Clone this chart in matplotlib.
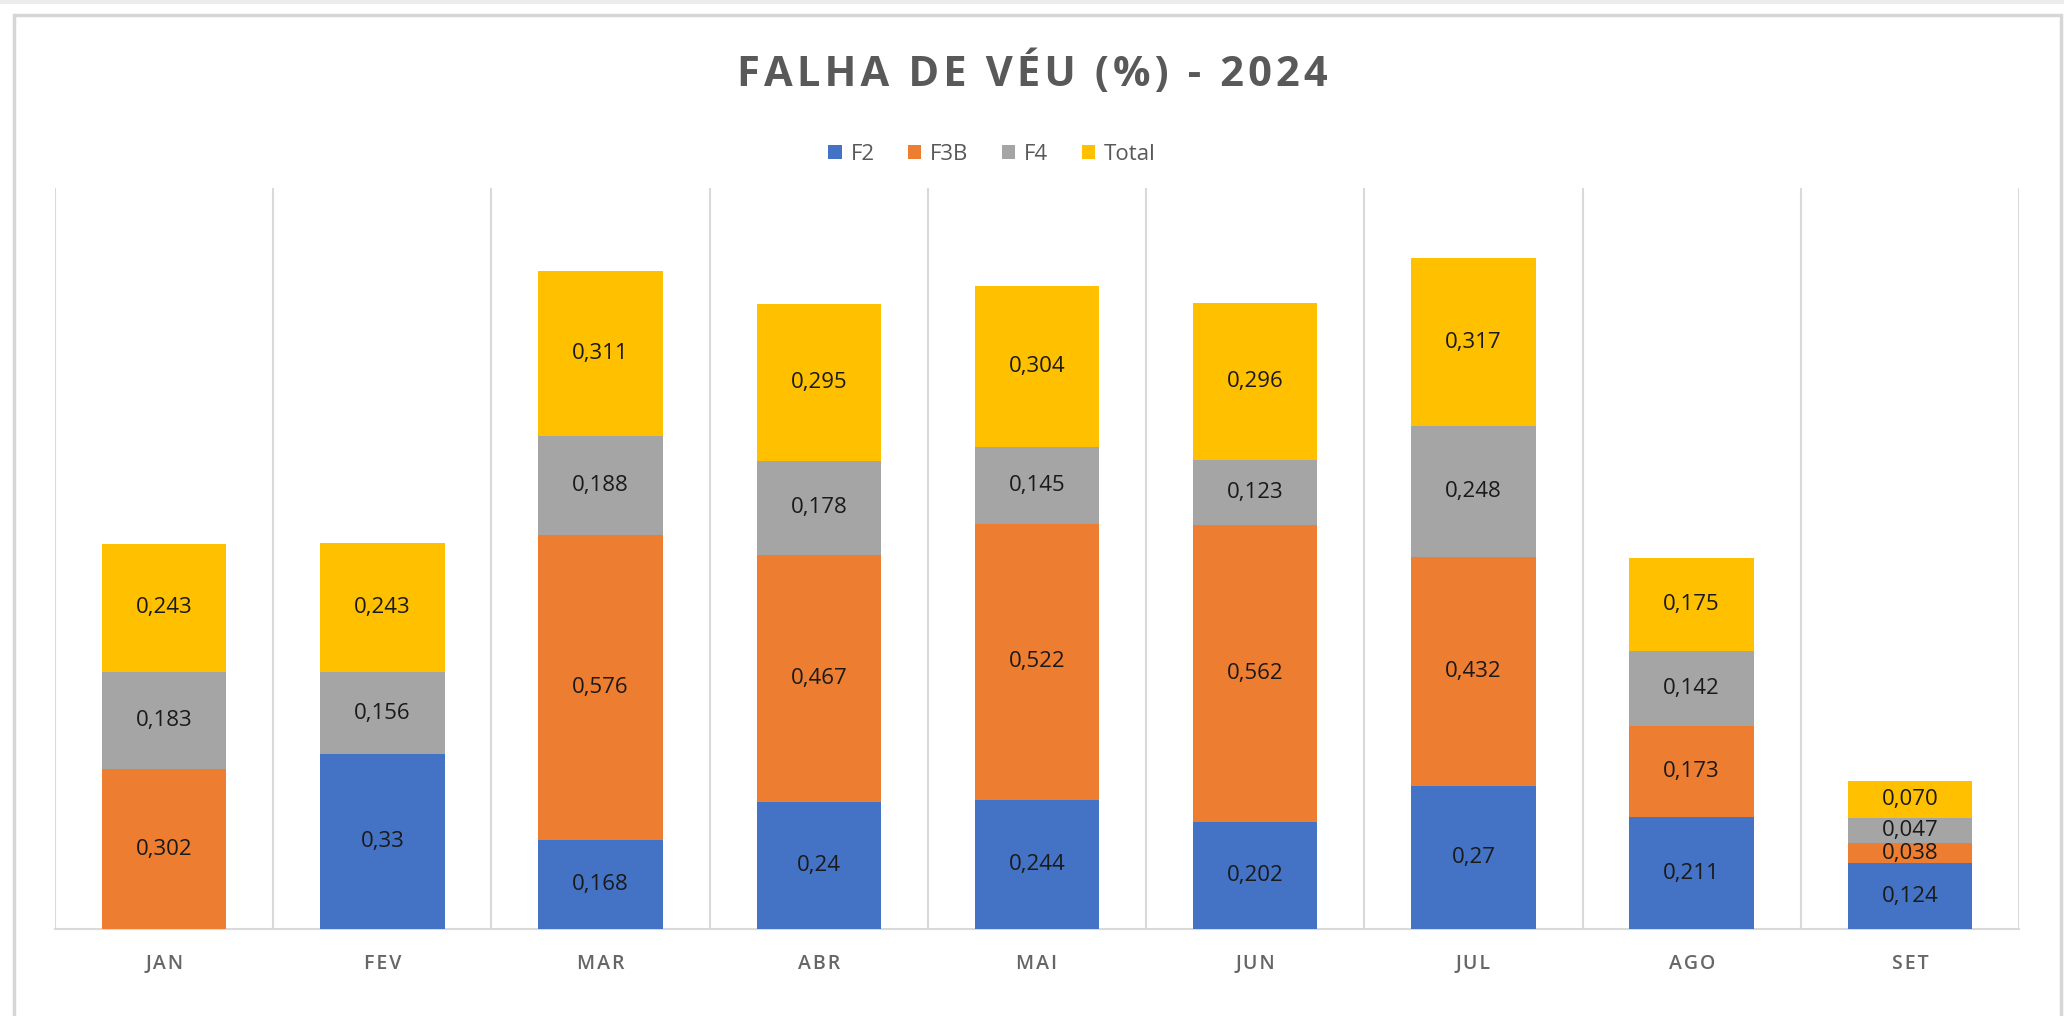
import numpy as np
import matplotlib
matplotlib.use('Agg')
import matplotlib.pyplot as plt
from matplotlib.patches import Rectangle, Patch

# ---------------------------------------------
# DATA
months = ['JAN', 'FEV', 'MAR', 'ABR', 'MAI', 'JUN', 'JUL', 'AGO', 'SET']
f2 = [0, 0.33, 0.168, 0.24, 0.244, 0.202, 0.27, 0.211, 0.124]
f3b = [0.302, 0, 0.576, 0.467, 0.522, 0.562, 0.432, 0.173, 0.038]
f4 = [0.183, 0.156, 0.188, 0.178, 0.145, 0.123, 0.248, 0.142, 0.047]
total = [0.243, 0.243, 0.311, 0.295, 0.304, 0.296, 0.317, 0.175, 0.070]

series_names = ['F2', 'F3B', 'F4', 'Total']
series_colors = ['#4472C4', '#ED7D31', '#A5A5A5', '#FFC000']
label_fmt = ['{:g}', '{:.3f}', '{:.3f}', '{:.3f}']

plt.rcParams['font.family'] = ['Open Sans', 'DejaVu Sans']

fig = plt.figure(figsize=(20.64, 10.16), dpi=100)
fig.patch.set_facecolor('white')

# frame of the screenshot
W, H = 2064, 1016
fig.patches.append(Rectangle((0, 1 - 4 / H), 1, 4 / H, transform=fig.transFigure,
                             facecolor='#ececec', edgecolor='none', zorder=0))
fig.patches.append(Rectangle((14 / W, -0.01), (2061 - 14) / W, 1.01 - 15 / H,
                             transform=fig.transFigure, facecolor='none',
                             edgecolor='#d6d6d6', linewidth=2.5, zorder=0))

ax = fig.add_axes([55 / W, 87 / H, (2019 - 55) / W, (929 - 188) / H])

x = np.arange(len(months))
bottom = np.zeros(len(months))
width = 0.57
all_series = [f2, f3b, f4, total]
for vals, name, col, fmt in zip(all_series, series_names, series_colors, label_fmt):
    vals = np.array(vals, dtype=float)
    ax.bar(x, vals, width, bottom=bottom, color=col, label=name, zorder=3)
    for xi, v, b in zip(x, vals, bottom):
        if v > 0:
            ax.text(xi, b + v / 2, fmt.format(v).replace('.', ','), ha='center', va='center',
                    fontsize=16, color='#1a1a1a', zorder=4)
    bottom += vals

ax.set_xlim(-0.5, len(months) - 0.5)
ax.set_ylim(0, 1.4)
ax.set_yticks([])
for b in np.arange(-0.5, len(months), 1):
    ax.axvline(b, color='#d9d9d9', linewidth=1.5, zorder=1)
for s in ['top', 'right', 'left']:
    ax.spines[s].set_visible(False)
ax.spines['bottom'].set_color('#d9d9d9')
ax.spines['bottom'].set_linewidth(1.5)
ax.set_xticks(x)
ax.set_xticklabels(['\u200a'.join(m) for m in months], fontsize=14, color='#666666',
                   fontweight='semibold')
ax.tick_params(axis='x', length=0, pad=18)

fig.text(0.5, 1 - 74 / H, '\u200a'.join('FALHA DE VÉU (%) - 2024'), ha='center', va='center',
         fontsize=30, fontweight='bold', color='#595959')

handles = [Patch(facecolor=c, edgecolor='none') for c in series_colors]
fig.legend(handles, series_names, loc='center', bbox_to_anchor=(992 / W, 1 - 154 / H),
           ncol=4, frameon=False, fontsize=16, labelcolor='#595959',
           handlelength=0.6, handleheight=0.6, handletextpad=0.4, columnspacing=1.5)

plt.savefig('out.png', dpi=100, facecolor='white')
